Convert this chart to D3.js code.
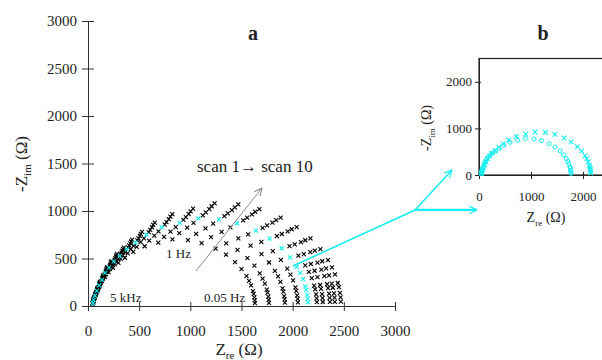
<!DOCTYPE html>
<html>
<head>
<meta charset="utf-8">
<script src="https://cdn.jsdelivr.net/npm/d3@7"></script>
<style>
  body { margin: 0; background: #fff; }
  text { font-family: "Liberation Serif", "Times New Roman", serif; fill: #222; }
</style>
</head>
<body>
<svg id="chart" width="602" height="360"></svg>
<script>
// impedance per scan (Ohm), low frequency (0.05 Hz) -> high frequency (5 kHz)
const scanRe = [
  [1631,1629,1626,1619,1612,1594,1574,1549,1500,1437,1349,1247,1110,976,825,687,554,442,361,297,244,201,166,138,114,93,76,62,53,47],
  [1768,1766,1762,1755,1747,1728,1706,1678,1626,1558,1461,1351,1202,1057,892,743,598,476,388,319,261,214,176,146,119,97,78,64,53,47],
  [1924,1922,1917,1909,1901,1880,1857,1826,1769,1695,1589,1469,1306,1148,969,806,648,515,419,344,281,229,188,155,126,102,81,65,54,47],
  [2051,2049,2044,2035,2027,2004,1979,1947,1885,1806,1694,1565,1392,1223,1031,857,689,547,445,364,297,242,198,162,132,106,84,67,55,47],
  [2149,2146,2142,2132,2123,2100,2073,2039,1975,1892,1774,1640,1457,1280,1079,897,720,571,464,380,309,251,205,168,136,109,86,68,55,48],
  [2237,2234,2229,2220,2210,2186,2158,2123,2056,1969,1846,1706,1517,1332,1122,932,749,593,482,394,320,260,212,173,140,111,88,69,56,48],
  [2295,2292,2287,2277,2268,2242,2214,2178,2109,2020,1894,1750,1555,1366,1151,956,767,608,493,403,328,266,216,177,142,113,89,70,56,48],
  [2364,2361,2356,2346,2336,2310,2281,2243,2172,2081,1951,1802,1602,1406,1185,984,789,625,507,414,336,273,221,181,145,115,90,70,56,48],
  [2412,2409,2404,2393,2383,2356,2327,2289,2216,2123,1990,1839,1634,1435,1208,1003,805,637,516,421,342,277,225,184,147,117,91,71,57,48],
  [2471,2468,2462,2452,2441,2414,2384,2345,2271,2174,2039,1883,1674,1469,1237,1027,824,652,528,431,350,283,229,187,150,118,92,71,57,48]
];
const scanIm = [
  [30,59,90,128,157,216,264,314,389,463,540,604,663,694,702,666,629,570,508,454,400,357,307,265,209,164,121,82,49,22],
  [32,65,98,140,172,236,289,343,425,505,590,660,724,759,766,727,687,623,554,496,437,390,335,290,229,179,132,89,54,24],
  [35,70,105,151,185,254,311,370,458,545,636,711,780,818,826,784,740,672,598,535,471,420,361,312,247,193,142,96,58,26],
  [37,74,112,160,196,269,330,393,486,577,674,754,827,867,876,831,785,712,634,567,499,445,383,331,261,205,150,102,62,27],
  [39,78,118,169,207,284,348,413,512,608,710,794,871,913,922,875,827,750,667,597,526,469,403,349,275,216,159,108,65,29],
  [40,81,122,175,214,294,360,428,530,630,735,823,902,946,955,906,856,777,691,618,544,486,418,361,285,224,164,111,67,30],
  [42,83,126,180,221,303,371,442,547,649,758,848,931,975,985,935,883,801,713,638,561,501,431,372,294,231,169,115,69,31],
  [43,86,130,187,229,314,384,457,566,672,785,878,964,1010,1020,968,914,829,738,660,581,519,446,385,304,239,175,119,72,32],
  [44,89,134,192,235,323,396,471,582,692,808,904,992,1039,1050,996,941,854,760,679,598,534,459,397,313,246,180,122,74,33],
  [46,91,138,198,242,332,407,484,599,712,831,930,1020,1069,1080,1024,968,878,781,699,615,549,472,408,322,253,186,126,76,34]
];
const highlightScan = 4; // scan 5, shown in cyan and again in panel b

// panel b, circle series
const circRe = [1769,1767,1763,1756,1748,1729,1707,1679,1627,1559,1462,1352,1202,1057,892,743,598,476,388,319,261,214,176,146,120,97,78,64,53,47];
const circIm = [33,66,100,143,175,240,294,350,433,515,601,673,738,773,781,741,700,635,565,510,470,430,390,345,290,230,175,120,75,33];

const ticksA = [0, 500, 1000, 1500, 2000, 2500, 3000];
const ticksB = [0, 1000, 2000];

const CYAN = '#12eef2';
const SERIF = '"Liberation Serif", "Times New Roman", serif';
const svg = d3.select('#chart');

function cross(s) { return `M${-s},${-s}L${s},${s}M${-s},${s}L${s},${-s}`; }

// arrow heads
const defs = svg.append('defs');
[['arrGray', '#8a8a8a'], ['arrCyan', CYAN]].forEach(([id, col]) => {
  defs.append('marker').attr('id', id)
    .attr('viewBox', '0 0 10 10').attr('refX', 9.5).attr('refY', 5)
    .attr('markerWidth', 9).attr('markerHeight', 9).attr('markerUnits', 'userSpaceOnUse')
    .attr('orient', 'auto')
    .append('path').attr('d', 'M1,1L9.5,5L1,9').attr('fill', 'none')
    .attr('stroke', col).attr('stroke-width', 1.3);
});

// ---------- panel a ----------
const xa = d3.scaleLinear().domain([0, 3000]).range([88, 395]);
const ya = d3.scaleLinear().domain([0, 3000]).range([306, 21]);

const axX = svg.append('g').attr('transform', 'translate(0,306)')
  .call(d3.axisBottom(xa).tickValues(ticksA).tickFormat(d3.format('d')).tickSizeOuter(0));
axX.selectAll('.tick line').attr('y1', -4).attr('y2', 5);
axX.selectAll('.tick text').attr('y', 30).attr('dy', 0).style('font-size', '15px');

const axY = svg.append('g').attr('transform', 'translate(88,0)')
  .call(d3.axisLeft(ya).tickValues(ticksA).tickFormat(d3.format('d')).tickSizeOuter(0));
axY.selectAll('.tick line').attr('x1', -6).attr('x2', 6);
axY.selectAll('.tick text').attr('x', -11).style('font-size', '15px');

[axX, axY].forEach(g => {
  g.attr('font-family', SERIF);
  g.selectAll('.domain, .tick line').attr('stroke', '#333');
  g.selectAll('.tick text').attr('fill', '#222').style('font-family', SERIF);
});

// points, black scans first, cyan scan on top
const pts = [];
scanRe.forEach((row, k) => row.forEach((re, j) => pts.push({ k, re, im: scanIm[k][j] })));
pts.sort((a, b) => (a.k === highlightScan) - (b.k === highlightScan));

svg.append('g').selectAll('path')
  .data(pts)
  .join('path')
  .attr('transform', d => `translate(${xa(d.re)},${ya(d.im)})`)
  .attr('d', cross(2))
  .attr('fill', 'none')
  .attr('stroke', d => d.k === highlightScan ? CYAN : '#000')
  .attr('stroke-width', 1.1);

// annotations
svg.append('line')
  .attr('x1', xa(1055)).attr('y1', ya(368))
  .attr('x2', xa(1700)).attr('y2', ya(1242))
  .attr('stroke', '#8a8a8a').attr('stroke-width', 1)
  .attr('marker-end', 'url(#arrGray)');

svg.append('text').attr('x', 197).attr('y', 172).style('font-size', '17px').text('scan 1\u2192 scan 10');
svg.append('text').attr('x', 166).attr('y', 258).style('font-size', '13px').text('1 Hz');
svg.append('text').attr('x', 110).attr('y', 302).style('font-size', '13px').text('5 kHz');
svg.append('text').attr('x', 204).attr('y', 302).style('font-size', '13px').text('0.05 Hz');

svg.append('text').attr('x', 253).attr('y', 40).attr('text-anchor', 'middle')
  .style('font-size', '20px').style('font-weight', 'bold').text('a');

const xlabA = svg.append('text').attr('x', 239).attr('y', 355).attr('text-anchor', 'middle').style('font-size', '17px');
xlabA.append('tspan').text('Z');
xlabA.append('tspan').attr('dy', 4).style('font-size', '11px').text('re');
xlabA.append('tspan').attr('dy', -4).text(' (\u03a9)');

const ylabA = svg.append('text').attr('transform', 'translate(27,164) rotate(-90)')
  .attr('text-anchor', 'middle').style('font-size', '17px');
ylabA.append('tspan').text('-Z');
ylabA.append('tspan').attr('dy', 4).style('font-size', '11px').text('im');
ylabA.append('tspan').attr('dy', -4).text(' (\u03a9)');

// cyan link to panel b
const elbow = [3196, 1011];
svg.append('line')
  .attr('x1', xa(2003)).attr('y1', ya(421))
  .attr('x2', xa(elbow[0])).attr('y2', ya(elbow[1]))
  .attr('stroke', CYAN).attr('stroke-width', 1.5);
svg.append('line')
  .attr('x1', xa(elbow[0])).attr('y1', ya(elbow[1]))
  .attr('x2', xa(3557)).attr('y2', ya(1432))
  .attr('stroke', CYAN).attr('stroke-width', 1.5)
  .attr('marker-end', 'url(#arrCyan)');
svg.append('line')
  .attr('x1', xa(elbow[0])).attr('y1', ya(elbow[1]))
  .attr('x2', xa(3801)).attr('y2', ya(elbow[1]))
  .attr('stroke', CYAN).attr('stroke-width', 2.2)
  .attr('marker-end', 'url(#arrCyan)');

// ---------- panel b ----------
const xb = d3.scaleLinear().domain([0, 2500]).range([479, 609]);
const yb = d3.scaleLinear().domain([0, 2500]).range([175, 58.5]);

svg.append('rect')
  .attr('x', xb(0)).attr('y', yb(2500))
  .attr('width', xb(2500) - xb(0)).attr('height', yb(0) - yb(2500))
  .attr('fill', 'none').attr('stroke', '#222').attr('stroke-width', 1.2);

const bX = svg.append('g').attr('transform', `translate(0,${yb(0)})`)
  .call(d3.axisBottom(xb).tickValues(ticksB).tickFormat(d3.format('d')).tickSizeOuter(0));
bX.selectAll('.tick line').attr('y1', -3).attr('y2', 4);
bX.selectAll('.tick text').attr('y', 26).attr('dy', 0).style('font-size', '13px');

const bY = svg.append('g').attr('transform', `translate(${xb(0)},0)`)
  .call(d3.axisLeft(yb).tickValues(ticksB).tickFormat(d3.format('d')).tickSizeOuter(0));
bY.selectAll('.tick line').attr('x1', -4).attr('x2', 2);
bY.selectAll('.tick text').attr('x', -7).style('font-size', '13px');
[bX, bY].forEach(g => {
  g.attr('font-family', SERIF);
  g.selectAll('.domain, .tick line').attr('stroke', '#222');
  g.selectAll('.tick text').attr('fill', '#222').style('font-family', SERIF);
});

svg.append('g').selectAll('path')
  .data(scanRe[highlightScan].map((re, j) => ({ re, im: scanIm[highlightScan][j] })))
  .join('path')
  .attr('transform', d => `translate(${xb(d.re)},${yb(d.im)})`)
  .attr('d', cross(2.3))
  .attr('fill', 'none').attr('stroke', CYAN).attr('stroke-width', 1.1);

svg.append('g').selectAll('circle')
  .data(circRe.map((re, j) => ({ re, im: circIm[j] })))
  .join('circle')
  .attr('cx', d => xb(d.re)).attr('cy', d => yb(d.im)).attr('r', 2)
  .attr('fill', 'none').attr('stroke', CYAN).attr('stroke-width', 1);

svg.append('text').attr('x', 543).attr('y', 40).attr('text-anchor', 'middle')
  .style('font-size', '20px').style('font-weight', 'bold').text('b');

const xlabB = svg.append('text').attr('x', 546).attr('y', 222).attr('text-anchor', 'middle').style('font-size', '14px');
xlabB.append('tspan').text('Z');
xlabB.append('tspan').attr('dy', 4).style('font-size', '9px').text('re');
xlabB.append('tspan').attr('dy', -4).text(' (\u03a9)');

const ylabB = svg.append('text').attr('transform', 'translate(431,128) rotate(-90)')
  .attr('text-anchor', 'middle').style('font-size', '14px');
ylabB.append('tspan').text('-Z');
ylabB.append('tspan').attr('dy', 4).style('font-size', '9px').text('im');
ylabB.append('tspan').attr('dy', -4).text(' (\u03a9)');
</script>
</body>
</html>
